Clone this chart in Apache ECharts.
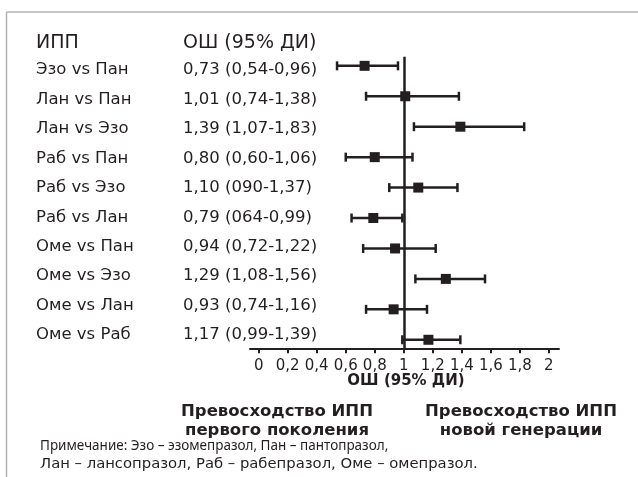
<!DOCTYPE html>
<html><head><meta charset="utf-8">
<script src="https://cdn.jsdelivr.net/npm/echarts@6/dist/echarts.min.js"></script>
<style>html,body{margin:0;padding:0;background:#fff}#c{width:638px;height:477px}</style>
</head><body><div id="c"></div>
<script>
var comparisons = ['Эзо vs Пан','Лан vs Пан','Лан vs Эзо','Раб vs Пан','Раб vs Эзо','Раб vs Лан','Оме vs Пан','Оме vs Эзо','Оме vs Лан','Оме vs Раб'];
var orText = ['0,73 (0,54-0,96)','1,01 (0,74-1,38)','1,39 (1,07-1,83)','0,80 (0,60-1,06)','1,10 (090-1,37)','0,79 (064-0,99)','0,94 (0,72-1,22)','1,29 (1,08-1,56)','0,93 (0,74-1,16)','1,17 (0,99-1,39)'];
var orValues = [0.73,1.01,1.39,0.80,1.10,0.79,0.94,1.29,0.93,1.17];
var ciLow =    [0.54,0.74,1.07,0.60,0.90,0.64,0.72,1.08,0.74,0.99];
var ciHigh =   [0.96,1.38,1.83,1.06,1.37,0.99,1.22,1.56,1.16,1.39];
var xTicks = [0,0.2,0.4,0.6,0.8,1,1.2,1.4,1.6,1.8,2];

var FONT = 'DejaVu Sans';
var INK = '#231f20';
var data = comparisons.map(function(c,i){ return [i, orValues[i], ciLow[i], ciHigh[i]]; });

var chart = echarts.init(document.getElementById('c'), null, {renderer:'canvas'});
chart.setOption({
  animation:false,
  backgroundColor:'#fff',
  grid:{left:250, right:79, top:56.7, bottom:128.7},
  xAxis:{type:'value', min:-0.06, max:2.07,
    splitLine:{show:false},
    axisLine:{show:true, onZero:false, lineStyle:{color:INK, width:2}},
    axisTick:{show:true, customValues:xTicks, length:5, lineStyle:{color:INK, width:2}},
    axisLabel:{customValues:xTicks, margin:10, color:INK, fontFamily:FONT, fontSize:15,
      formatter:function(v){ return String(Math.round(v*10)/10).replace('.',','); }}
  },
  yAxis:[
    {type:'value', inverse:true, min:-0.3, max:9.28, show:false},
    {type:'value', inverse:true, min:-0.452, max:9.452, show:false}
  ],
  series:[{
    type:'custom',
    data:data,
    renderItem:function(params, api){
      var i = api.value(0);
      var p = api.coord([api.value(1), i]);
      var l = api.coord([api.value(2), i]);
      var h = api.coord([api.value(3), i]);
      var cap = 4.5, s = 10;
      return {type:'group', children:[
        {type:'line', shape:{x1:l[0], y1:l[1], x2:h[0], y2:h[1]}, style:{stroke:INK, lineWidth:2.5}},
        {type:'line', shape:{x1:l[0], y1:l[1]-cap, x2:l[0], y2:l[1]+cap}, style:{stroke:INK, lineWidth:2.5}},
        {type:'line', shape:{x1:h[0], y1:h[1]-cap, x2:h[0], y2:h[1]+cap}, style:{stroke:INK, lineWidth:2.5}},
        {type:'rect', shape:{x:p[0]-s/2, y:p[1]-s/2, width:s, height:s}, style:{fill:INK}}
      ]};
    },
    markLine:{silent:true, symbol:'none', label:{show:false},
      lineStyle:{color:INK, width:2.5, type:'solid'},
      data:[{xAxis:1}]}
  },{
    type:'custom',
    yAxisIndex:1,
    data:data,
    renderItem:function(params, api){
      var i = api.value(0);
      var y = api.coord([0, i])[1];
      return {type:'group', children:[
        {type:'text', x:36, y:y, style:{text:comparisons[i], fill:INK, font:'16.5px "'+FONT+'"', textAlign:'left', textVerticalAlign:'middle'}},
        {type:'text', x:183, y:y, style:{text:orText[i], fill:INK, font:'16.5px "'+FONT+'"', textAlign:'left', textVerticalAlign:'middle'}}
      ]};
    }
  }],
  graphic:[
    {type:'line', shape:{x1:6.5, y1:12, x2:638, y2:12}, style:{stroke:'#b3b3b3', lineWidth:1.5}},
    {type:'line', shape:{x1:6.5, y1:12, x2:6.5, y2:477}, style:{stroke:'#b3b3b3', lineWidth:1.5}},
    {type:'text', x:36, y:43.5, style:{text:'ИПП', fill:INK, font:'19px "'+FONT+'"', textVerticalAlign:'middle'}},
    {type:'text', x:183, y:43.5, style:{text:'ОШ (95% ДИ)', fill:INK, font:'19px "'+FONT+'"', textVerticalAlign:'middle'}},
    {type:'text', x:406, y:381.5, style:{text:'ОШ (95% ДИ)', fill:INK, font:'bold 15px "'+FONT+'"', textAlign:'center', textVerticalAlign:'middle'}},
    {type:'text', x:277, y:412, style:{text:'Превосходство ИПП', fill:INK, font:'bold 16.5px "'+FONT+'"', textAlign:'center', textVerticalAlign:'middle'}},
    {type:'text', x:277, y:431, style:{text:'первого поколения', fill:INK, font:'bold 16.5px "'+FONT+'"', textAlign:'center', textVerticalAlign:'middle'}},
    {type:'text', x:521, y:412, style:{text:'Превосходство ИПП', fill:INK, font:'bold 16.5px "'+FONT+'"', textAlign:'center', textVerticalAlign:'middle'}},
    {type:'text', x:521, y:431, style:{text:'новой генерации', fill:INK, font:'bold 16.5px "'+FONT+'"', textAlign:'center', textVerticalAlign:'middle'}},
    {type:'text', x:40, y:446, style:{text:'Примечание: Эзо – эзомепразол, Пан – пантопразол,', fill:INK, font:'13.5px "Noto Sans"', textVerticalAlign:'middle'}},
    {type:'text', x:40, y:464, style:{text:'Лан – лансопразол, Раб – рабепразол, Оме – омепразол.', fill:INK, font:'14.8px "DejaVu Sans"', textVerticalAlign:'middle'}}
  ]
});
</script></body></html>
